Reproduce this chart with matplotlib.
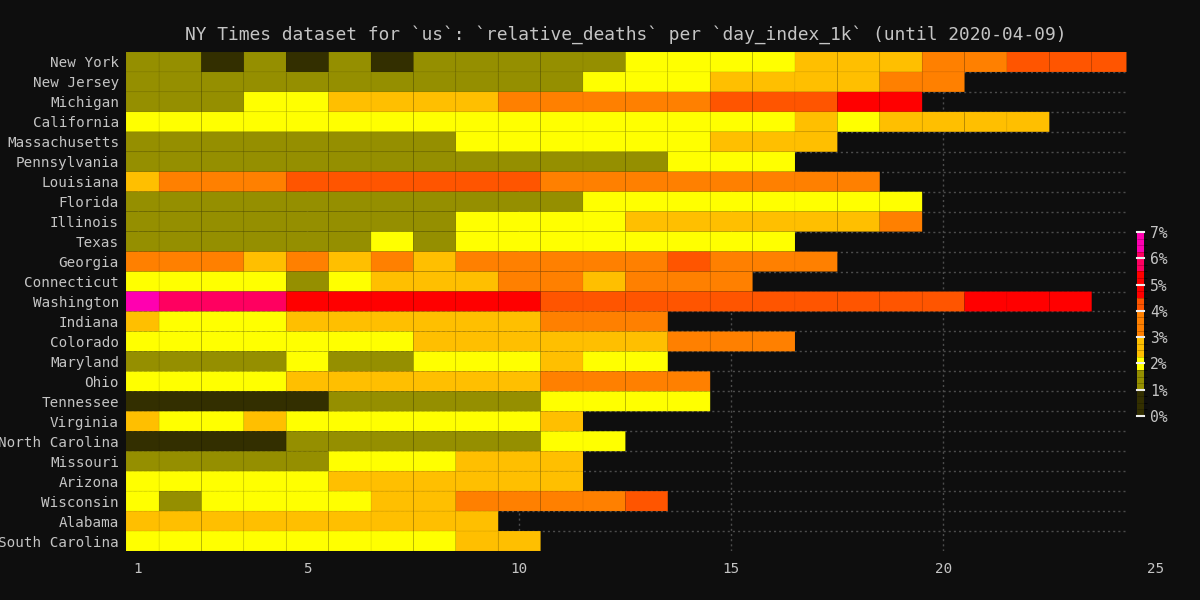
import numpy as np
import matplotlib
matplotlib.use("Agg")
import matplotlib.pyplot as plt
from matplotlib.colors import ListedColormap, BoundaryNorm
from matplotlib.cm import ScalarMappable

# ---------------- data ----------------
title = "NY Times dataset for `us`: `relative_deaths` per `day_index_1k` (until 2020-04-09)"

states = ["New York", "New Jersey", "Michigan", "California", "Massachusetts",
          "Pennsylvania", "Louisiana", "Florida", "Illinois", "Texas", "Georgia",
          "Connecticut", "Washington", "Indiana", "Colorado", "Maryland", "Ohio",
          "Tennessee", "Virginia", "North Carolina", "Missouri", "Arizona",
          "Wisconsin", "Alabama", "South Carolina"]

days = list(range(1, 25))

# relative deaths in percent, per day index (estimated from colour bands)
new_york       = [1.3, 1.3, 0.6, 1.3, 0.6, 1.3, 0.6, 1.3, 1.3, 1.3, 1.3, 1.3, 2.0, 2.0, 2.1, 2.1, 2.6, 2.6, 2.8, 3.5, 3.6, 4.2, 4.3, 4.3]
new_jersey     = [1.3, 1.3, 1.3, 1.3, 1.3, 1.3, 1.3, 1.3, 1.3, 1.3, 1.4, 2.0, 2.0, 2.1, 2.5, 2.6, 2.7, 2.8, 3.3, 3.5]
michigan       = [1.3, 1.3, 1.4, 2.0, 2.1, 2.5, 2.6, 2.7, 2.8, 3.3, 3.5, 3.6, 3.7, 3.8, 4.2, 4.3, 4.4, 5.0, 5.1]
california     = [2.0, 2.0, 2.0, 2.0, 2.0, 2.0, 2.0, 2.0, 2.0, 2.0, 2.0, 2.0, 2.0, 2.1, 2.1, 2.2, 2.3, 2.2, 2.3, 2.4, 2.4, 2.5]
massachusetts  = [1.2, 1.2, 1.2, 1.2, 1.2, 1.2, 1.3, 1.3, 1.8, 1.9, 2.0, 2.0, 2.1, 2.2, 2.3, 2.4, 2.5]
pennsylvania   = [1.2, 1.2, 1.2, 1.2, 1.2, 1.2, 1.3, 1.3, 1.3, 1.3, 1.4, 1.5, 1.6, 1.9, 2.0, 2.1]
louisiana      = [2.8, 3.5, 3.6, 3.8, 4.2, 4.3, 4.4, 4.4, 4.3, 4.2, 3.9, 3.8, 3.8, 3.7, 3.6, 3.5, 3.5, 3.4]
florida        = [1.3, 1.3, 1.3, 1.3, 1.3, 1.3, 1.3, 1.3, 1.4, 1.5, 1.6, 1.8, 1.9, 2.0, 2.0, 2.1, 2.1, 2.1, 2.2]
illinois       = [1.3, 1.3, 1.3, 1.3, 1.3, 1.3, 1.4, 1.5, 1.9, 2.0, 2.1, 2.2, 2.4, 2.5, 2.6, 2.7, 2.8, 2.9, 3.1]
texas          = [1.2, 1.2, 1.2, 1.3, 1.3, 1.4, 1.8, 1.6, 1.8, 1.9, 1.9, 2.0, 2.0, 2.0, 2.1, 2.2]
georgia        = [3.5, 3.4, 3.2, 2.9, 3.1, 2.9, 3.1, 2.9, 3.2, 3.4, 3.5, 3.7, 3.9, 4.1, 3.9, 3.8, 3.7]
connecticut    = [2.0, 2.0, 2.0, 1.8, 1.6, 1.9, 2.4, 2.6, 2.8, 3.2, 3.1, 2.9, 3.2, 3.4, 3.6]
washington     = [6.6, 5.9, 5.9, 5.7, 5.3, 5.2, 5.0, 5.0, 4.9, 4.8, 4.4, 4.3, 4.2, 4.2, 4.2, 4.3, 4.3, 4.4, 4.4, 4.4, 4.6, 4.7, 4.7]
indiana        = [2.5, 2.0, 2.0, 2.2, 2.4, 2.5, 2.6, 2.7, 2.8, 2.9, 3.1, 3.3, 3.5]
colorado       = [2.0, 2.0, 2.0, 2.0, 2.1, 2.2, 2.2, 2.3, 2.4, 2.6, 2.7, 2.8, 2.9, 3.1, 3.2, 3.3]
maryland       = [1.2, 1.2, 1.3, 1.4, 1.8, 1.6, 1.7, 1.8, 1.9, 2.1, 2.3, 2.2, 2.2]
ohio           = [2.0, 2.0, 2.1, 2.2, 2.4, 2.5, 2.6, 2.7, 2.8, 2.9, 3.1, 3.2, 3.3, 3.4]
tennessee      = [0.5, 0.5, 0.6, 0.7, 0.8, 1.1, 1.2, 1.3, 1.4, 1.5, 1.8, 1.9, 2.0, 2.1]
virginia       = [2.4, 2.1, 2.2, 2.3, 2.2, 2.1, 2.0, 2.0, 2.1, 2.2, 2.3]
north_carolina = [0.5, 0.6, 0.7, 0.8, 1.1, 1.2, 1.3, 1.4, 1.5, 1.6, 1.8, 1.9]
missouri       = [1.3, 1.3, 1.4, 1.5, 1.6, 1.8, 2.0, 2.1, 2.3, 2.4, 2.5]
arizona        = [2.0, 2.0, 2.0, 2.1, 2.2, 2.3, 2.4, 2.5, 2.6, 2.7, 2.8]
wisconsin      = [1.8, 1.6, 1.9, 2.0, 2.1, 2.2, 2.4, 2.8, 3.1, 3.3, 3.5, 3.8, 4.1]
alabama        = [2.5, 2.5, 2.6, 2.6, 2.7, 2.7, 2.7, 2.8, 2.8]
south_carolina = [2.0, 2.0, 2.0, 2.0, 2.1, 2.1, 2.2, 2.2, 2.4, 2.5]

rows = [new_york, new_jersey, michigan, california, massachusetts, pennsylvania,
        louisiana, florida, illinois, texas, georgia, connecticut, washington,
        indiana, colorado, maryland, ohio, tennessee, virginia, north_carolina,
        missouri, arizona, wisconsin, alabama, south_carolina]

band_edges = [0, 1, 1.75, 2.25, 3, 4, 4.5, 5.5, 6.25, 7]
band_colors = ["#332f00", "#958f00", "#ffff00", "#ffbf00", "#ff8000",
               "#ff5500", "#ff0000", "#ff0060", "#ff00b0"]

x_ticks = [1, 5, 10, 15, 20, 25]
cbar_ticks = [0, 1, 2, 3, 4, 5, 6, 7]

# ---------------- style ----------------
BG = "#0e0e0e"
TXT = "#c4c4c4"
GRID = "#4c4c4c"
FONT = "DejaVu Sans Mono"
plt.rcParams["font.family"] = [FONT, "DejaVu Sans"]

W, H = 1200, 600
fig = plt.figure(figsize=(12, 6), dpi=100, facecolor=BG)

# axes: data area from px 126 to 1126, extended to keep the "25" tick
x_lo, x_hi_data, x_hi = 0.72, 24.32, 25.11
ax = fig.add_axes([126 / W, (H - 551) / H, (1160 - 126) / W, (551 - 52) / H])
ax.set_facecolor(BG)

cmap = ListedColormap(band_colors)
norm = BoundaryNorm(band_edges, cmap.N)

Z = np.full((len(states), len(days)), np.nan)
for i, r in enumerate(rows):
    Z[i, :len(r)] = r
Zm = np.ma.masked_invalid(Z)

x_edges = np.clip(np.arange(days[0] - 0.5, days[-1] + 1.0, 1.0), x_lo, x_hi_data)
y_edges = np.arange(-0.5, len(states), 1.0)

# grid
ax.hlines(np.arange(0.5, len(states) - 1), x_lo, x_hi_data, colors=GRID,
          linestyles=(0, (1.5, 2.2)), linewidth=1.0, zorder=0)
for t in x_ticks:
    if t < x_hi_data:
        ax.axvline(t, color=GRID, linestyle=(0, (1.5, 2.2)), linewidth=1.0, zorder=0)

ax.pcolor(x_edges, y_edges, Zm, cmap=cmap, norm=norm,
          edgecolors=(0, 0, 0, 0.05), linewidth=0.5, zorder=2)

ax.set_xlim(x_lo, x_hi)
ax.set_ylim(len(states) - 0.5, -0.5)
for s in ax.spines.values():
    s.set_visible(False)

ax.set_yticks(range(len(states)))
ax.set_yticklabels(states)
ax.set_xticks(x_ticks)
ax.set_xticklabels([str(t) for t in x_ticks])
ax.tick_params(axis="y", length=0, pad=5, labelsize=10.3, colors=TXT)
ax.tick_params(axis="x", length=0, pad=8, labelsize=10.3, colors=TXT)

fig.text(625.5 / W, 1 - 35 / H, title, ha="center", va="center",
         color=TXT, fontsize=12.9)

# colour bar
fine_edges = np.arange(0, 7.001, 0.25)
fine_colors = [cmap(norm((a + b) / 2)) for a, b in zip(fine_edges[:-1], fine_edges[1:])]
fine_cmap = ListedColormap(fine_colors)
fine_norm = BoundaryNorm(fine_edges, fine_cmap.N)

cax = fig.add_axes([1137 / W, (H - 416) / H, 7 / W, 184 / H])
cb = fig.colorbar(ScalarMappable(norm=fine_norm, cmap=fine_cmap), cax=cax,
                  drawedges=True, ticks=cbar_ticks)
cb.outline.set_visible(False)
cb.dividers.set_color((0, 0, 0, 0.3))
cb.dividers.set_linewidth(0.5)
cb.set_ticklabels([f"{t}%" for t in cbar_ticks])
cax.tick_params(length=0, pad=4.5, labelsize=10.5, colors=TXT)
for t in cbar_ticks:
    cax.axhline(t, color="#eeeeee", linewidth=1.5, clip_on=False, zorder=5)

fig.savefig("out.png", dpi=100, facecolor=BG)
